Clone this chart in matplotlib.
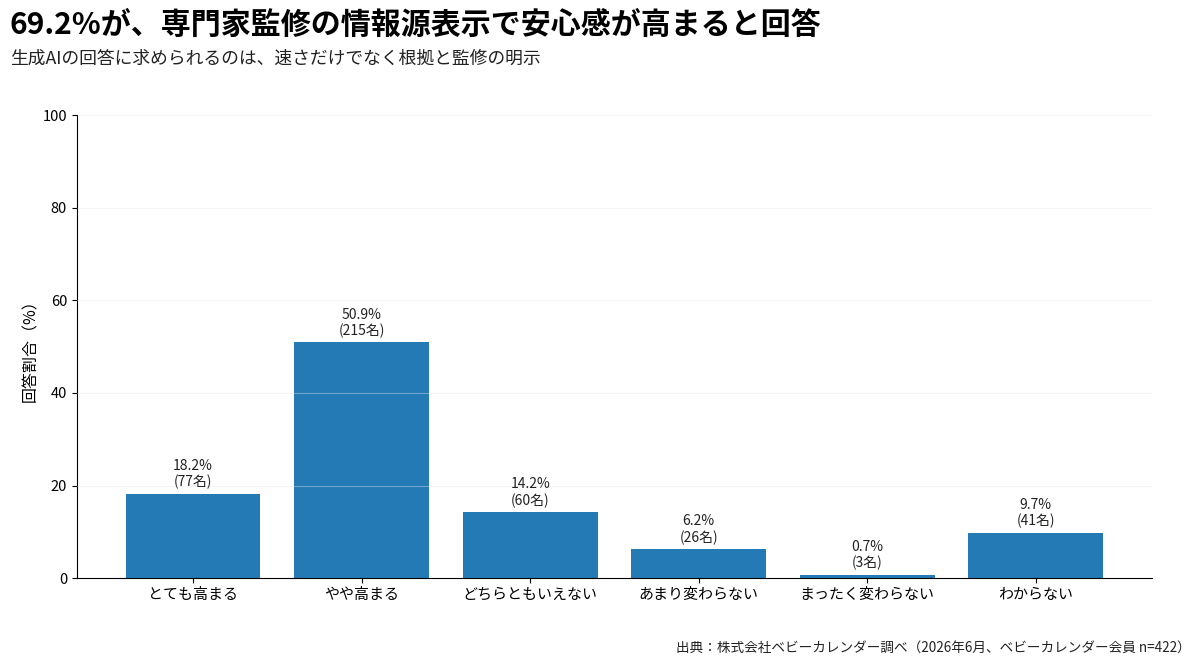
import matplotlib
matplotlib.use("Agg")
import matplotlib.pyplot as plt

plt.rcParams['font.family'] = ['Noto Sans CJK JP', 'DejaVu Sans']

categories = ["とても高まる", "やや高まる", "どちらともいえない", "あまり変わらない", "まったく変わらない", "わからない"]
percents = [18.2, 50.9, 14.2, 6.2, 0.7, 9.7]
counts = [77, 215, 60, 26, 3, 41]

fig = plt.figure(figsize=(12, 6.66), dpi=100)
ax = fig.add_axes([0.064, 0.132, 0.896, 0.695])

x = range(len(categories))
bars = ax.bar(x, percents, width=0.8, color='#1f77b4', alpha=0.98, zorder=1)

for i, (p, c) in enumerate(zip(percents, counts)):
    ax.text(i, p + 1.0, f"{p}%\n({c}名)", ha='center', va='bottom',
            fontsize=10, color='#222222', linespacing=1.15)

ax.set_ylim(0, 100)
ax.set_yticks([0, 20, 40, 60, 80, 100])
ax.set_xticks(list(x))
ax.set_xticklabels(categories, fontsize=10.8)
ax.tick_params(axis='y', labelsize=10.5)
ax.set_ylabel("回答割合（%）", fontsize=11.5, labelpad=2)

ax.set_axisbelow(False)
ax.grid(axis='y', color='#e8e8e8', linewidth=0.8, alpha=0.4, zorder=2)
ax.spines['top'].set_visible(False)
ax.spines['right'].set_visible(False)

fig.text(0.008, 0.963, "69.2%が、専門家監修の情報源表示で安心感が高まると回答",
         fontsize=21.6, fontweight='bold', ha='left', va='center')
fig.text(0.008, 0.912, "生成AIの回答に求められるのは、速さだけでなく根拠と監修の明示",
         fontsize=12.8, ha='left', va='center', color='#222222')
fig.text(0.992, 0.027, "出典：株式会社ベビーカレンダー調べ（2026年6月、ベビーカレンダー会員 n=422）",
         fontsize=9.8, ha='right', va='center', color='#222222')

fig.savefig("out.png", dpi=100)
